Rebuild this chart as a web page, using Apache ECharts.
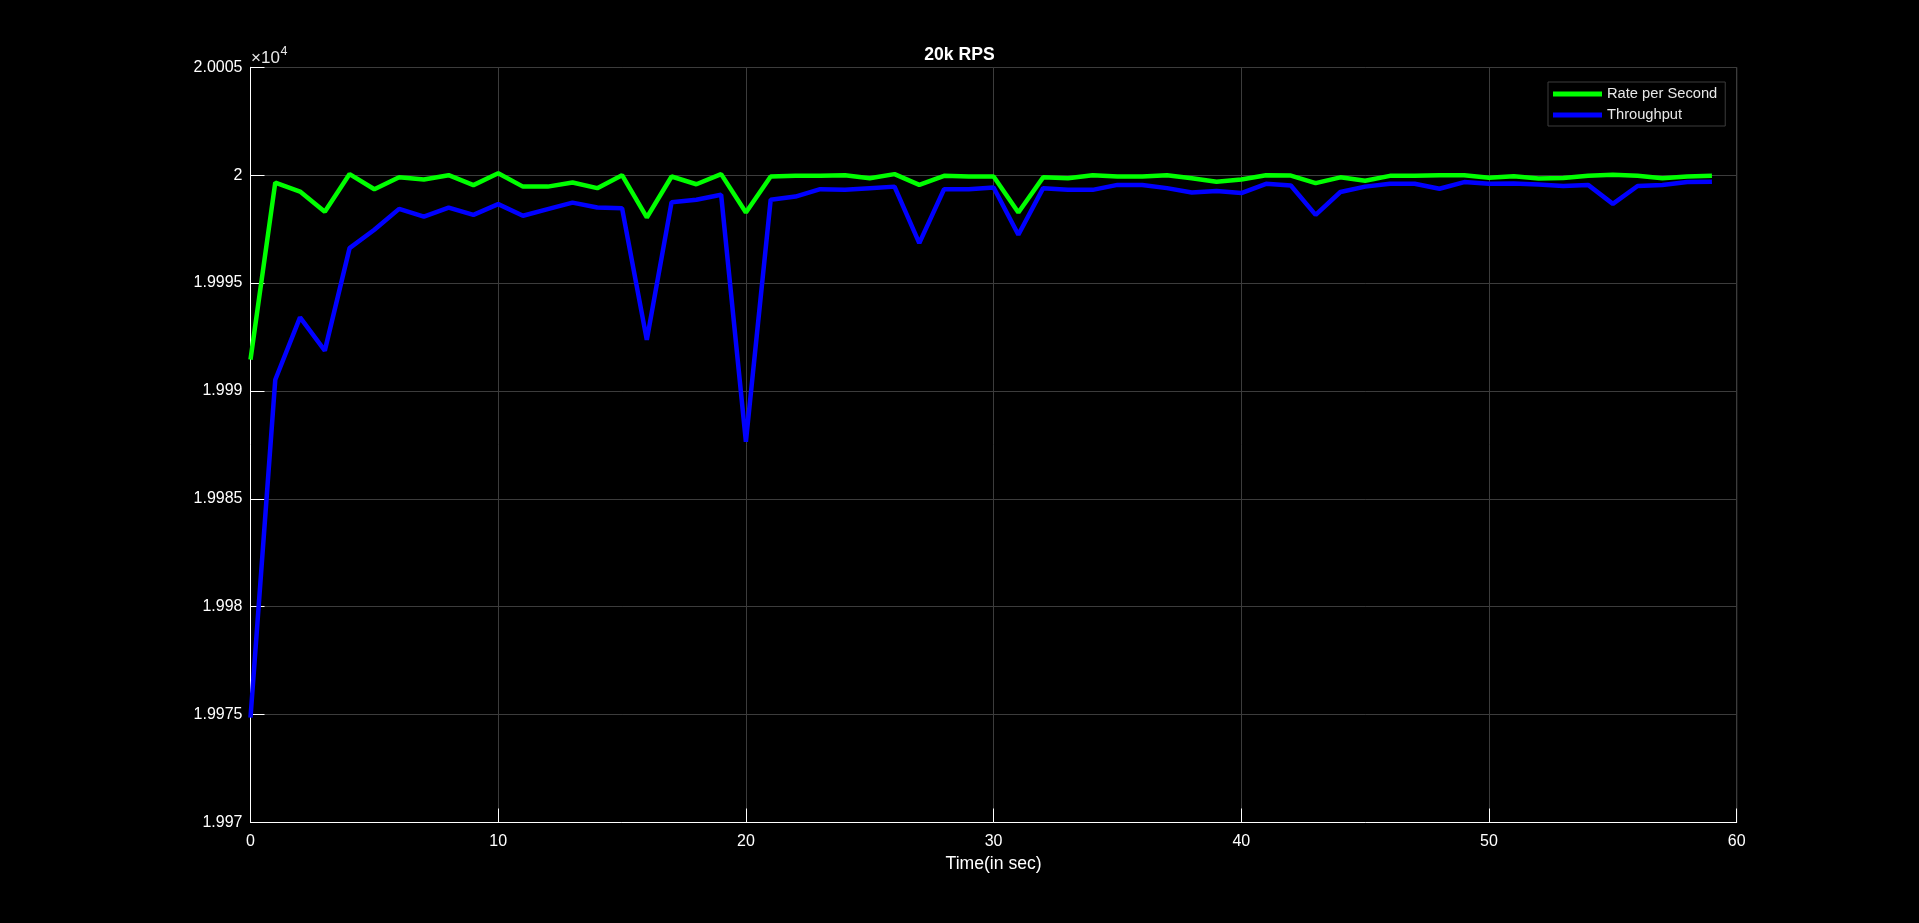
<!DOCTYPE html>
<html>
<head>
<meta charset="utf-8">
<script src="https://cdn.jsdelivr.net/npm/echarts@6/dist/echarts.min.js"></script>
<style>
html,body{margin:0;padding:0;background:#000;}
#chart{width:1919px;height:923px;}
</style>
</head>
<body>
<div id="chart"></div>
<script>
const timeSec = [0,1,2,3,4,5,6,7,8,9,10,11,12,13,14,15,16,17,18,19,20,21,22,23,24,25,26,27,28,29,30,31,32,33,34,35,36,37,38,39,40,41,42,43,44,45,46,47,48,49,50,51,52,53,54,55,56,57,58,59];
const ratePerSecond = [19991.45,19999.66,19999.24,19998.31,20000.05,19999.35,19999.9,19999.8,20000.0,19999.54,
  20000.09,19999.47,19999.47,19999.66,19999.4,20000.0,19998.04,19999.94,19999.58,20000.05,
  19998.27,19999.94,19999.97,19999.97,20000.0,19999.86,20000.05,19999.55,19999.97,19999.94,
  19999.94,19998.27,19999.9,19999.86,20000.0,19999.94,19999.94,20000.0,19999.86,19999.7,
  19999.8,20000.0,19999.98,19999.63,19999.9,19999.74,19999.97,19999.97,20000.0,20000.0,
  19999.88,19999.95,19999.85,19999.87,19999.97,20000.02,19999.97,19999.86,19999.94,19999.97];
const throughput = [19974.86,19990.52,19993.41,19991.87,19996.62,19997.47,19998.44,19998.08,19998.5,19998.16,
  19998.66,19998.12,19998.43,19998.73,19998.5,19998.47,19992.37,19998.75,19998.86,19999.09,
  19987.65,19998.86,19999.01,19999.35,19999.32,19999.4,19999.47,19996.85,19999.35,19999.35,
  19999.43,19997.24,19999.4,19999.32,19999.32,19999.55,19999.55,19999.4,19999.2,19999.27,
  19999.17,19999.6,19999.52,19998.16,19999.22,19999.47,19999.6,19999.6,19999.37,19999.68,
  19999.6,19999.62,19999.57,19999.5,19999.55,19998.67,19999.5,19999.55,19999.68,19999.7];
const seriesNames = ['Rate per Second', 'Throughput'];
const chartTitle = '20k RPS';
const xAxisName = 'Time(in sec)';

const FONT = '"Liberation Sans", Arial, Helvetica, sans-serif';
const chart = echarts.init(document.getElementById('chart'));
const pair = (arr) => arr.map((v, i) => [timeSec[i], v]);

chart.setOption({
  backgroundColor: '#000',
  animation: false,
  title: {
    text: chartTitle, left: 'center', top: 46, padding: 0,
    textStyle: {color: '#ffffff', fontSize: 17.6, fontWeight: 'bold', fontFamily: FONT}
  },
  legend: {
    orient: 'vertical', left: 1548, top: 82,
    padding: [4, 8, 3, 5], itemGap: 5,
    itemWidth: 49, itemHeight: 5, icon: 'rect',
    backgroundColor: '#000', borderColor: '#3c3c3c', borderWidth: 1,
    textStyle: {color: '#e8e8e8', fontSize: 14.7, fontFamily: FONT, lineHeight: 16},
    data: seriesNames
  },
  grid: {left: 250.5, right: 182.3, top: 67.3, bottom: 100.5, containLabel: false},
  xAxis: {
    type: 'value', min: 0, max: 60, interval: 10,
    name: xAxisName, nameLocation: 'middle', nameGap: 33,
    nameTextStyle: {color: '#ffffff', fontSize: 17.6, fontFamily: FONT},
    axisLine: {show: true, onZero: false, lineStyle: {color: '#ffffff', width: 1}},
    axisTick: {show: true, inside: true, length: 14, lineStyle: {color: '#ffffff'}},
    axisLabel: {color: '#ffffff', fontSize: 16, fontFamily: FONT, margin: 11},
    splitLine: {show: true, lineStyle: {color: '#3c3c3c', width: 1}}
  },
  yAxis: {
    type: 'value', min: 19970, max: 20005, interval: 5,
    axisLine: {show: true, onZero: false, lineStyle: {color: '#ffffff', width: 1}},
    axisTick: {show: true, inside: true, length: 14, lineStyle: {color: '#ffffff'}},
    axisLabel: {
      color: '#ffffff', fontSize: 16, fontFamily: FONT, margin: 8,
      formatter: (v) => String(parseFloat((v / 10000).toFixed(4)))
    },
    splitLine: {show: true, lineStyle: {color: '#3c3c3c', width: 1}}
  },
  graphic: [
    {type: 'rect', shape: {x: 1736.7, y: 67.3, width: 0, height: 755.2}, style: {stroke: '#3c3c3c', fill: null}, silent: true},
    {type: 'text', x: 251, y: 67, style: {text: '\u00d710', fill: '#e8e8e8', font: '17px ' + FONT, textVerticalAlign: 'bottom'}},
    {type: 'text', x: 280.5, y: 45.5, style: {text: '4', fill: '#e8e8e8', font: '12.5px ' + FONT, textVerticalAlign: 'top'}}
  ],
  series: [
    {name: seriesNames[0], type: 'line', data: pair(ratePerSecond), showSymbol: false,
     lineStyle: {color: '#00ff00', width: 4.5}, itemStyle: {color: '#00ff00'}},
    {name: seriesNames[1], type: 'line', data: pair(throughput), showSymbol: false,
     lineStyle: {color: '#0000ff', width: 4.5}, itemStyle: {color: '#0000ff'}}
  ]
});
</script>
</body>
</html>
